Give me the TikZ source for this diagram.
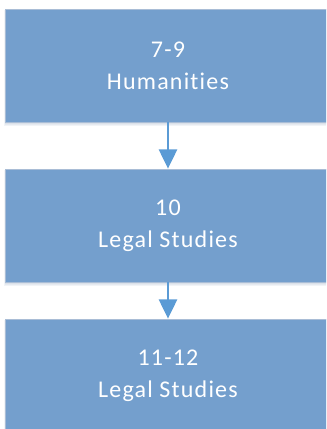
\documentclass[tikz,border=0pt]{standalone}
\usepackage{fontspec}
\newfontfamily\boxfont[LetterSpace=5,Ligatures={NoCommon,NoRequired,NoContextual}]{Carlito}
\usetikzlibrary{arrows.meta}
\definecolor{boxfill}{HTML}{749FCD}
\definecolor{boxline}{HTML}{A9BDD6}
\definecolor{arrowblue}{HTML}{5B9BD5}
\definecolor{shadowc}{HTML}{8FA3BC}
\tikzset{
  stage/.style={rectangle, fill=boxfill, draw=boxline, line width=0.5pt,
    minimum width=244.5pt, minimum height=84.75pt, inner sep=0pt,
    align=center, text=white, font=\boxfont\fontsize{18}{24}\selectfont},
  shade1/.style={fill=shadowc, opacity=0.12},
  flow/.style={draw=arrowblue, line width=2.2pt,
    -{Triangle[width=13.5pt,length=14.5pt]}, shorten >=0pt}
}
\begin{document}
\begin{tikzpicture}[x=0.75pt,y=-0.75pt]
\useasboundingbox (0,0) rectangle (326,429);
\clip (0,0) rectangle (326,429);
% soft shadows
\foreach \t/\b in {9/122,169/282,319/432}{
  \fill[shade1] (4,\t+1) rectangle (333,\b+4);
  \fill[shade1] (4.5,\t+1) rectangle (332,\b+2.5);
  \fill[shade1] (5,\t+1) rectangle (331.5,\b+1.5);
}
\node[stage] (b1) at (168,65.5) {7-9\\Humanities};
\node[stage] (b2) at (168,225.5) {10\\Legal Studies};
\node[stage] (b3) at (168,375.5) {11-12\\Legal Studies};
\draw[flow] (b1.south) -- (b2.north);
\draw[flow] (b2.south) -- (b3.north);
\end{tikzpicture}
\end{document}
